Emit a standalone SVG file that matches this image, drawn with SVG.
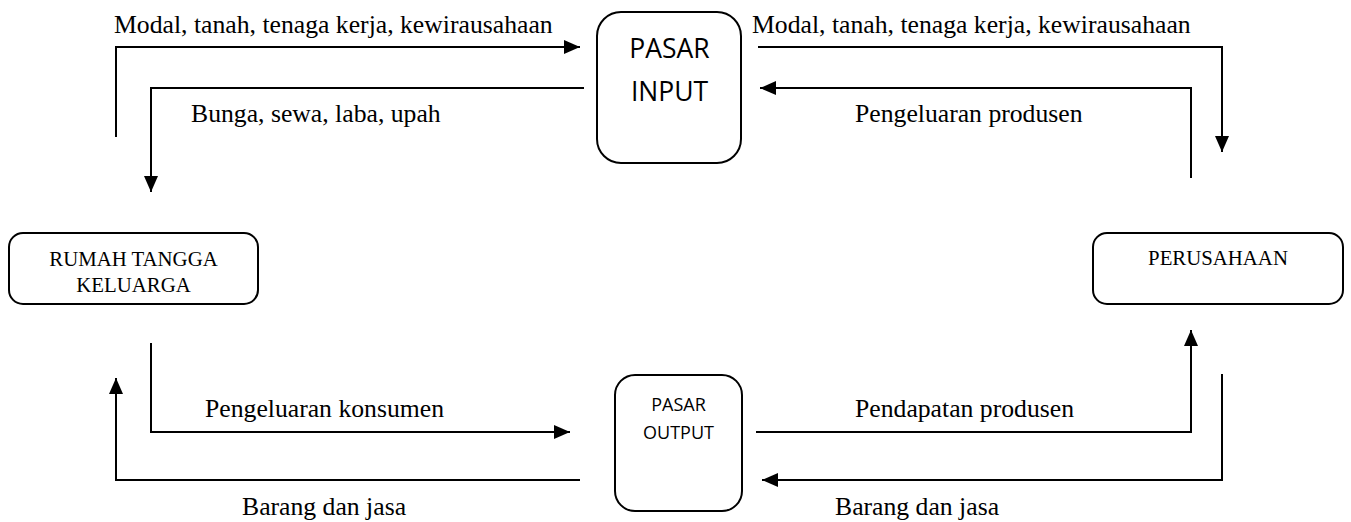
<svg xmlns="http://www.w3.org/2000/svg" width="1351" height="522" viewBox="0 0 1351 522">
<style>
.box{fill:#fff;stroke:#000;stroke-width:2}
.conn{fill:none;stroke:#000;stroke-width:2}
.lbl{font-family:"Liberation Serif","Times New Roman",serif;font-size:25.7px;fill:#000}
.nt{font-family:"Liberation Serif","Times New Roman",serif;font-size:20.8px;fill:#000;text-anchor:middle}
.mk{font-family:"Open Sans","Liberation Sans",sans-serif;fill:#000;text-anchor:middle}
</style>
<defs>
<marker id="ah" markerUnits="userSpaceOnUse" markerWidth="16" markerHeight="14" refX="16" refY="7" orient="auto">
<path d="M0,0 L16,7 L0,14 z" fill="#000"/>
</marker>
</defs>
<rect width="1351" height="522" fill="#fff"/>
<g id="pasar-input">
<rect class="box" x="597" y="12" width="144" height="151" rx="24"/>
<text class="mk" x="669.5" y="58" font-size="26.5">PASAR</text>
<text class="mk" x="669.5" y="101" font-size="26.5">INPUT</text>
</g>
<g id="rumah-tangga">
<rect class="box" x="9" y="233" width="249" height="71" rx="14"/>
<text class="nt" x="133.5" y="266">RUMAH TANGGA</text>
<text class="nt" x="133.5" y="292">KELUARGA</text>
</g>
<g id="perusahaan">
<rect class="box" x="1093" y="233" width="250" height="71" rx="14"/>
<text class="nt" x="1218" y="265">PERUSAHAAN</text>
</g>
<g id="pasar-output">
<rect class="box" x="615" y="375" width="127" height="136" rx="20"/>
<text class="mk" x="678.5" y="411" font-size="18">PASAR</text>
<text class="mk" x="678.5" y="439" font-size="18">OUTPUT</text>
</g>
<g id="connectors">
<path class="conn" d="M116,137 V47 H580" marker-end="url(#ah)"/>
<path class="conn" d="M584,88 H151 V192" marker-end="url(#ah)"/>
<path class="conn" d="M758,47 H1222 V152" marker-end="url(#ah)"/>
<path class="conn" d="M1191,178 V88 H760" marker-end="url(#ah)"/>
<path class="conn" d="M151,343 V432 H570" marker-end="url(#ah)"/>
<path class="conn" d="M580,480 H116 V378" marker-end="url(#ah)"/>
<path class="conn" d="M756,432 H1191 V330" marker-end="url(#ah)"/>
<path class="conn" d="M1222,374 V480 H762" marker-end="url(#ah)"/>
</g>
<g id="labels">
<text class="lbl" x="114" y="33">Modal, tanah, tenaga kerja, kewirausahaan</text>
<text class="lbl" x="191" y="122">Bunga, sewa, laba, upah</text>
<text class="lbl" x="752" y="33">Modal, tanah, tenaga kerja, kewirausahaan</text>
<text class="lbl" x="855" y="122">Pengeluaran produsen</text>
<text class="lbl" x="205" y="417">Pengeluaran konsumen</text>
<text class="lbl" x="855" y="417">Pendapatan produsen</text>
<text class="lbl" x="242" y="515">Barang dan jasa</text>
<text class="lbl" x="835" y="515">Barang dan jasa</text>
</g>
</svg>
